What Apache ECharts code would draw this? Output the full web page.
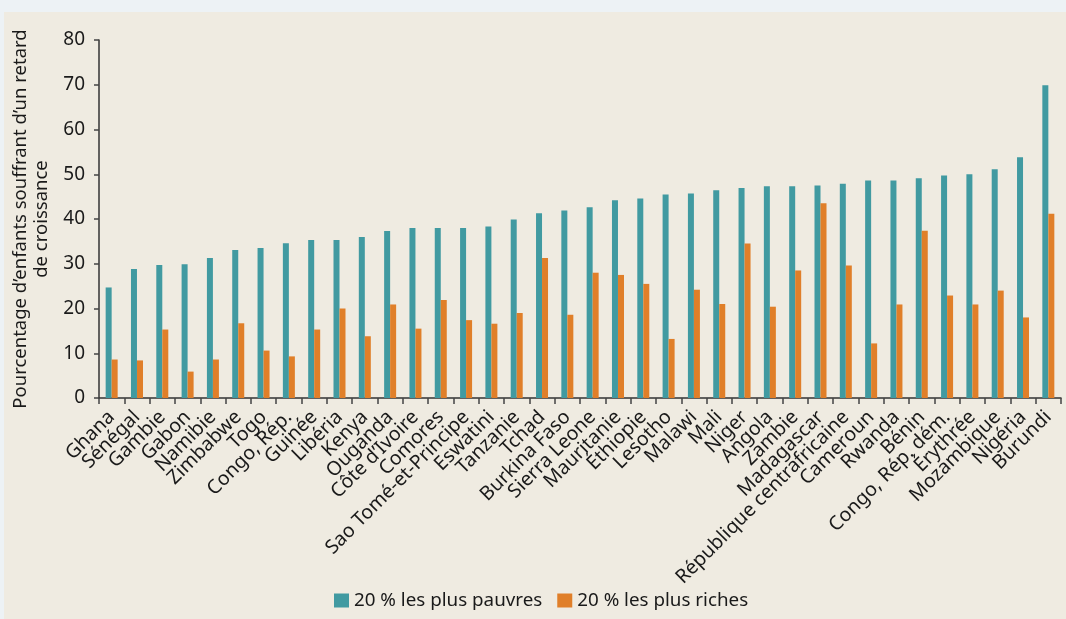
<!DOCTYPE html>
<html>
<head>
<meta charset="utf-8">
<script src="https://cdn.jsdelivr.net/npm/echarts@6/dist/echarts.min.js"></script>
<style>
html,body{margin:0;padding:0;background:#edf2f5;}
#c{width:1066px;height:619px;}
</style>
</head>
<body>
<div id="c"></div>
<script>
const categories = ["Ghana","Sénégal","Gambie","Gabon","Namibie","Zimbabwe","Togo","Congo, Rép.","Guinée","Libéria","Kenya","Ouganda","Côte d’Ivoire","Comores","Sao Tomé-et-Principe","Eswatini","Tanzanie","Tchad","Burkina Faso","Sierra Leone","Mauritanie","Éthiopie","Lesotho","Malawi","Mali","Niger","Angola","Zambie","Madagascar","République centrafricaine","Cameroun","Rwanda","Bénin","Congo, Rép. dém.","Érythrée","Mozambique","Nigéria","Burundi"];
const poorest = [24.7,28.8,29.7,29.9,31.3,33.1,33.5,34.6,35.3,35.3,36.0,37.3,38.0,38.0,38.0,38.3,39.9,41.3,41.9,42.6,44.2,44.6,45.5,45.7,46.4,46.9,47.3,47.3,47.5,47.9,48.6,48.6,49.1,49.7,50.0,51.1,53.8,69.9];
const richest = [8.6,8.4,15.3,5.9,8.6,16.7,10.6,9.3,15.3,20.0,13.8,20.9,15.5,21.9,17.4,16.6,19.0,31.3,18.6,28.0,27.5,25.5,13.2,24.2,21.0,34.5,20.4,28.5,43.5,29.6,12.2,20.9,37.4,22.9,20.9,24.0,18.0,41.2];
const yTicks = [0,10,20,30,40,50,60,70,80];
const seriesNames = ["20 % les plus pauvres","20 % les plus riches"];
const yAxisTitle = "Pourcentage d’enfants souffrant d’un retard\nde croissance";

const FONT = "Noto Sans";
const chart = echarts.init(document.getElementById('c'));
chart.setOption({
  backgroundColor: '#edf2f5',
  animation: false,
  textStyle: {fontFamily: FONT},
  graphic: [{type:'rect', shape:{x:4,y:12,width:1062,height:607}, style:{fill:'#efebe1'}, z:-10, silent:true}],
  grid: {left:99, right:5, top:40, bottom:221, containLabel:false},
  legend: {
    top: 586, left: 329,
    itemWidth: 15, itemHeight: 14, itemGap: 15,
    textStyle: {fontFamily: FONT, fontSize: 18.8, color:'#1a1a1a'},
    icon: 'rect',
    data: seriesNames
  },
  xAxis: {
    type: 'category', data: categories,
    axisLine: {lineStyle:{color:'#333', width:1.5}},
    axisTick: {show:true, length:6, lineStyle:{color:'#444', width:1.5}},
    axisLabel: {rotate:45, interval:0, fontSize:19.5, color:'#1a1a1a', margin:16, fontFamily: FONT}
  },
  yAxis: {
    type: 'value', min: yTicks[0], max: yTicks[yTicks.length-1], interval: 10,
    name: yAxisTitle, nameLocation:'middle', nameGap: 44, nameRotate: 90,
    nameTextStyle: {fontSize:18.5, color:'#1a1a1a', lineHeight:21, fontFamily: FONT},
    axisLine: {show:true, lineStyle:{color:'#333', width:1.5}},
    axisTick: {show:true, length:5, lineStyle:{color:'#444', width:1.5}},
    axisLabel: {fontSize:19, color:'#1a1a1a', margin:14, fontFamily: FONT},
    splitLine: {show:false}
  },
  series: [
    {name: seriesNames[0], type:'bar', data: poorest, barWidth:6, barGap:'0%', itemStyle:{color:'#419aa1'}},
    {name: seriesNames[1], type:'bar', data: richest, barWidth:6, barGap:'0%', itemStyle:{color:'#e07f29'}}
  ]
});
</script>
</body>
</html>
